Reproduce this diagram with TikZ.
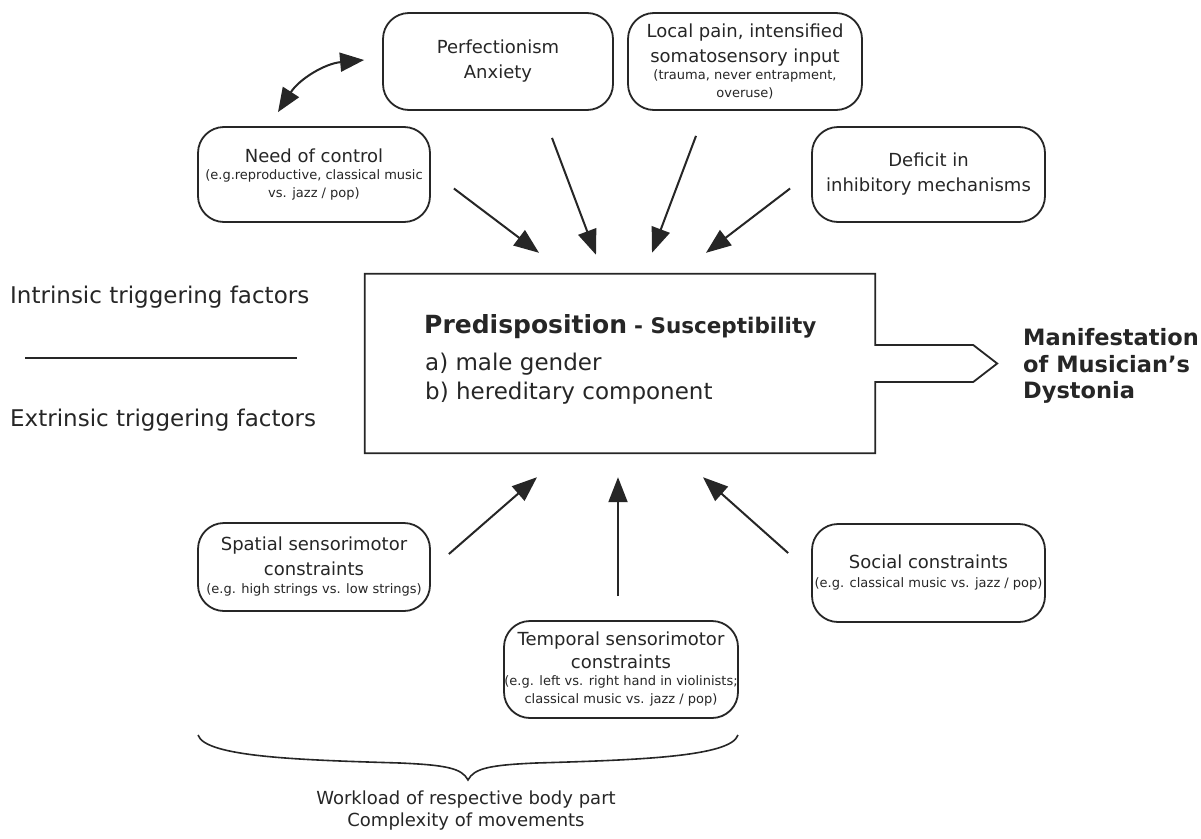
\documentclass[tikz,border=0pt]{standalone}
\usepackage{fontspec}
\setmainfont{DejaVu Sans}
\usetikzlibrary{arrows.meta,calc}
\newcommand\smt[1]{{\fontsize{13}{18}\selectfont #1}}
\begin{document}
\begin{tikzpicture}[x=1pt,y=-1pt,
  ink/.style={draw=black!85, text=black!85},
  rbox/.style={ink, line width=1.8pt, rounded corners=26pt, align=center, inner sep=0pt,
    font=\fontsize{18}{18}\selectfont},
  arr/.style={draw=black!85, line width=2pt, -{Triangle[length=25pt,width=19pt]}},
  dbl/.style={draw=black!85, line width=2pt, {Triangle[length=24pt,width=19pt]}-{Triangle[length=24pt,width=19pt]}},
  side/.style={text=black!85, font=\fontsize{23}{23}\selectfont, anchor=west, inner sep=0pt},
]
\useasboundingbox[fill=white] (0,0) rectangle (1201,838);

% top boxes
\node[rbox, minimum width=230pt, minimum height=97pt] (perf) at (498,61.5)
  {Perfectionism\\[7pt]Anxiety};
\node[rbox, minimum width=234pt, minimum height=97pt] (pain) at (745,61.5)
  {Local pain, intensified\\[7pt]somatosensory input\\[-1pt]\smt{(trauma, never entrapment,}\\\smt{overuse)}};
\node[rbox, minimum width=232pt, minimum height=95pt] (need) at (314,174.5)
  {Need of control\\[-1pt]\smt{(e.g.reproductive, classical music}\\\smt{vs. jazz / pop)}};
\node[rbox, minimum width=233pt, minimum height=95pt] (deficit) at (928.5,174.5)
  {Deficit in\\[7pt]inhibitory mechanisms};

% central box
\node[minimum width=510pt, minimum height=179pt, inner sep=0pt] (center) at (620,363.5) {};
\draw[ink, line width=1.8pt] ($(center.east)+(0,-18.5)$) -- (center.north east) -- (center.north west)
  -- (center.south west) -- (center.south east) -- ($(center.east)+(0,18.5)$)
  -- ++(98,0) -- ++(24,-18.5) -- ++(-24,-18.5) -- cycle;
\node[anchor=base west, inner sep=0pt, text=black!85] (title) at (424,333)
  {{\bfseries\fontsize{25}{25}\selectfont Predisposition}\hspace{7pt}{\bfseries\fontsize{21.5}{25}\selectfont - Susceptibility}};
\node[anchor=base west, inner sep=0pt, align=left, text=black!85, font=\fontsize{23}{29}\selectfont] (list) at (425,399)
  {a) male gender\\b) hereditary component};
\node[anchor=west, inner sep=0pt, align=left, text=black!85, font=\bfseries\fontsize{22.5}{26.5}\selectfont] (manif) at (1023,366)
  {Manifestation\\of Musician’s\\Dystonia};

% side labels
\node[side] (intr) at (10,297) {Intrinsic triggering factors};
\node[side] (extr) at (10,420) {Extrinsic triggering factors};
\coordinate (sepL) at (25,358);
\coordinate (sepR) at (297,358);
\draw[draw=black!85, line width=1.6pt] (sepL) -- (sepR);

% bottom boxes
\node[rbox, minimum width=232pt, minimum height=88pt] (spatial) at (314,567)
  {Spatial sensorimotor\\[7pt]constraints\\\smt{(e.g. high strings vs. low strings)}};
\node[rbox, minimum width=233pt, minimum height=98pt] (social) at (928.5,573)
  {Social constraints\\[1pt]\smt{(e.g. classical music vs. jazz / pop)}};
\node[rbox, minimum width=234pt, minimum height=97pt] (temporal) at (621,669.5)
  {Temporal sensorimotor\\[5pt]constraints\\[-1pt]\smt{(e.g. left vs. right hand in violinists;}\\\smt{classical music vs. jazz / pop)}};

% arrows
\draw[dbl] ([xshift=-36pt,yshift=14pt]need.north) to[bend left=26] ([xshift=-18pt,yshift=1.5pt]perf.west);
\draw[arr] ([xshift=23pt,yshift=-14pt]need.east) -- ([xshift=-81pt,yshift=21pt]center.north);
\draw[arr] ([xshift=54pt,yshift=-27pt]perf.south) -- ([xshift=-24pt,yshift=19pt]center.north);
\draw[arr] ([xshift=-49pt,yshift=-25pt]pain.south) -- ([xshift=32pt,yshift=21pt]center.north);
\draw[arr] ([xshift=-21pt,yshift=-14pt]deficit.west) -- ([xshift=86pt,yshift=21pt]center.north);
\draw[arr] ([xshift=18pt,yshift=13pt]spatial.east) -- ([xshift=-83pt,yshift=-24pt]center.south);
\draw[arr] ([xshift=-3pt,yshift=24pt]temporal.north) -- ([xshift=-2pt,yshift=-24pt]center.south);
\draw[arr] ([xshift=-23pt,yshift=20pt]social.west) -- ([xshift=83pt,yshift=-24pt]center.south);

% brace
\draw[draw=black!85, line width=1.6pt] (198,735) .. controls (205,757) and (300,760) .. (400,763)
  .. controls (445,765) and (462,768) .. (468,780)
  .. controls (474,768) and (491,765) .. (536,763)
  .. controls (636,760) and (731,757) .. (738,735);
\node[align=center, inner sep=0pt, text=black!85, font=\fontsize{18}{22}\selectfont] (work) at (466,811)
  {Workload of respective body part\\Complexity of movements};
\end{tikzpicture}
\end{document}
